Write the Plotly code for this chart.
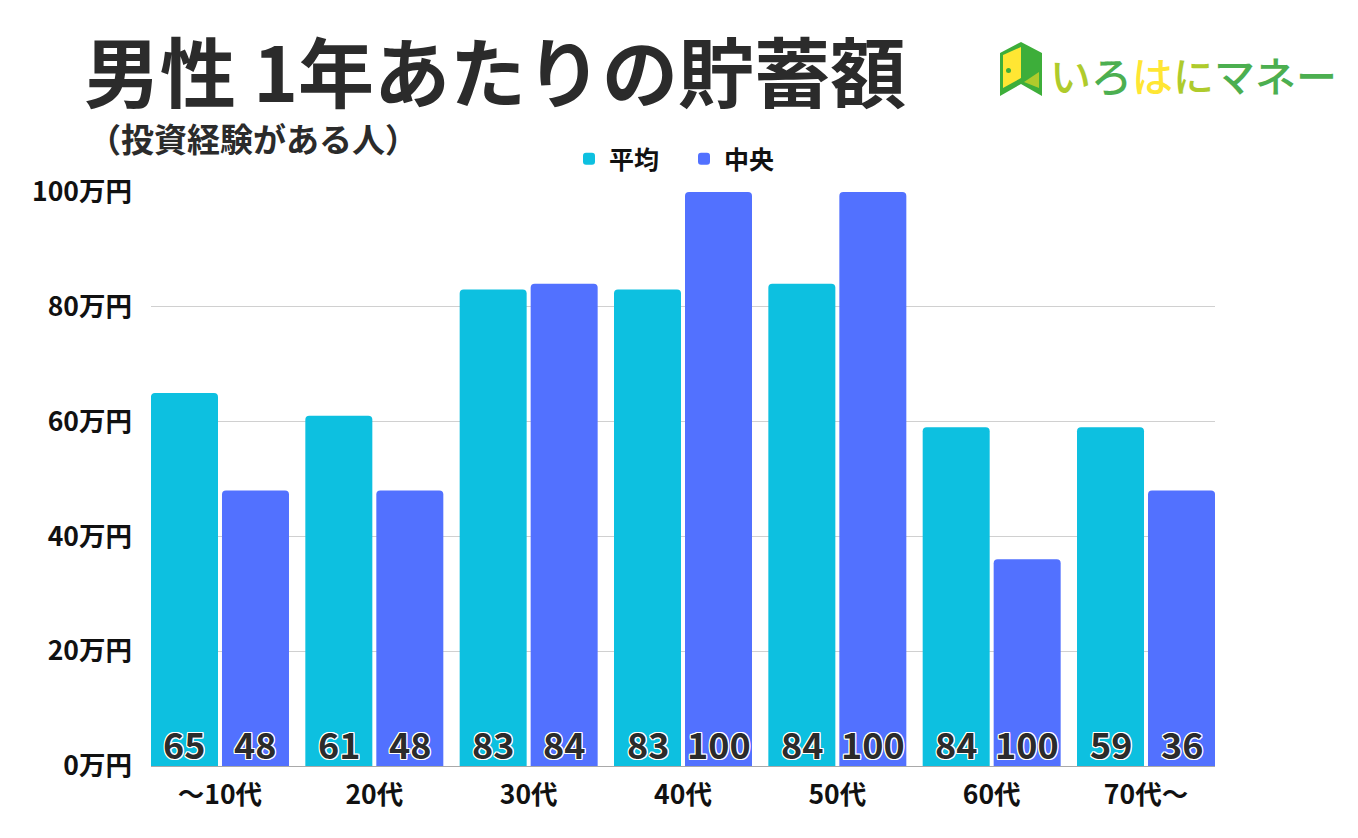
"""男性 1年あたりの貯蓄額 (投資経験がある人) bar chart."""

import plotly.graph_objects as go

AGE_GROUPS = ["〜10代", "20代", "30代", "40代", "50代", "60代", "70代〜"]

# bar heights and printed labels disagree in the 60代/70代〜 groups, kept as in the source
AVG_VALUES = [65, 61, 83, 83, 84, 59, 59]
MEDIAN_VALUES = [48, 48, 84, 100, 100, 36, 48]
AVG_LABELS = ["65", "61", "83", "83", "84", "84", "59"]
MEDIAN_LABELS = ["48", "48", "84", "100", "100", "100", "36"]

Y_TICKS = [0, 20, 40, 60, 80, 100]
Y_TICK_LABELS = ["0万円", "20万円", "40万円", "60万円", "80万円", "100万円"]

COLOR_AVG = "#0DC0E0"
COLOR_MEDIAN = "#5271FF"
COLOR_TEXT = "#2B2B2B"
FONT_JP = "Noto Sans CJK JP"

WIDTH, HEIGHT = 1358, 838
PLOT_L, PLOT_R, PLOT_T, PLOT_B = 151, 1215, 192, 766

LOGO_GREEN = "#4CAF50"
LOGO_DARK = "#3DAE3A"
LOGO_OLIVE = "#AFCB2C"
LOGO_YELLOW = "#FFE633"

OUTLINE = ("1px 0 0 #fff, -1px 0 0 #fff, 0 1px 0 #fff, 0 -1px 0 #fff, "
           "1px 1px 0 #fff, -1px -1px 0 #fff, 1px -1px 0 #fff, -1px 1px 0 #fff")


def paper_x(px):
    return (px - PLOT_L) / (PLOT_R - PLOT_L)


def paper_y(px):
    return (PLOT_B - px) / (PLOT_B - PLOT_T)


def polygon(points, color):
    path = "M" + " L".join(f"{paper_x(x)},{paper_y(y)}" for x, y in points) + " Z"
    return dict(type="path", xref="paper", yref="paper", path=path,
                fillcolor=color, line_width=0, layer="above")


def label_text(x, y, text, size, color=COLOR_TEXT, weight=700):
    return dict(xref="paper", yref="paper", x=paper_x(x), y=paper_y(y), text=text,
                showarrow=False, xanchor="left", yanchor="middle",
                font=dict(family=FONT_JP, size=size, color=color, weight=weight))


def bar_labels(labels, shift):
    # value labels sit at the foot of each bar, not at its top
    return [
        dict(xref="x", yref="y", x=i, y=0, xshift=shift, yshift=23, text=text,
             showarrow=False, xanchor="center", yanchor="middle",
             font=dict(family=FONT_JP, size=36, color=COLOR_TEXT, weight=700, shadow=OUTLINE))
        for i, text in enumerate(labels)
    ]


fig = go.Figure([
    go.Bar(name="平均", x=list(range(7)), y=AVG_VALUES, marker=dict(color=COLOR_AVG, line_width=0)),
    go.Bar(name="中央", x=list(range(7)), y=MEDIAN_VALUES, marker=dict(color=COLOR_MEDIAN, line_width=0)),
])

logo_spans = (
    f"<span style='color:{LOGO_OLIVE}'>い</span><span style='color:{LOGO_GREEN}'>ろ</span>"
    f"<span style='color:{LOGO_YELLOW}'>は</span><span style='color:{LOGO_OLIVE}'>に</span>"
    f"<span style='color:{LOGO_GREEN}'>マネー</span>"
)

annotations = [
    label_text(82, 69, "男性 1年あたりの貯蓄額", 76),
    label_text(86, 138, "（投資経験がある人）", 33),
    label_text(1048, 74, logo_spans, 41, color=LOGO_GREEN, weight=500),
] + bar_labels(AVG_LABELS, -35.5) + bar_labels(MEDIAN_LABELS, 35.5)

shapes = [
    polygon([(1000, 53), (1021, 42), (1042, 53), (1042, 96), (1021, 84), (1000, 96)], LOGO_DARK),
    polygon([(1003, 55), (1021, 47), (1021, 78), (1003, 88)], LOGO_YELLOW),
    polygon([(1024, 82), (1039, 72), (1039, 88)], LOGO_OLIVE),
    dict(type="circle", xref="paper", yref="paper", layer="above", line_width=0,
         fillcolor=LOGO_DARK, x0=paper_x(1006), x1=paper_x(1011), y0=paper_y(73), y1=paper_y(68)),
]

fig.update_layout(
    width=WIDTH, height=HEIGHT, autosize=False,
    margin=dict(l=PLOT_L, r=WIDTH - PLOT_R, t=PLOT_T, b=HEIGHT - PLOT_B, pad=0),
    paper_bgcolor="white", plot_bgcolor="white",
    barmode="group", bargap=0.08, bargroupgap=0.0563, barcornerradius=4,
    font=dict(family=FONT_JP, color="#111111"),
    legend=dict(orientation="h", x=paper_x(569), y=paper_y(159), xanchor="left", yanchor="middle",
                entrywidth=70, entrywidthmode="pixels",
                font=dict(family=FONT_JP, size=25, color="#111111", weight=700),
                bgcolor="rgba(0,0,0,0)", traceorder="normal"),
    xaxis=dict(range=[-0.447, 6.447], tickvals=list(range(7)), ticktext=AGE_GROUPS,
               showgrid=False, zeroline=False, showline=True, linecolor="#A9A9A9",
               linewidth=1, ticks="", ticklabelstandoff=5,
               tickfont=dict(family=FONT_JP, size=26.5, color="#111111", weight=700)),
    yaxis=dict(range=[0, 100], tickvals=Y_TICKS, ticktext=Y_TICK_LABELS, gridcolor="#D0D0D0",
               gridwidth=1, zeroline=False, ticks="", showline=False, ticklabelstandoff=18,
               tickfont=dict(family=FONT_JP, size=26.5, color="#111111", weight=700)),
    annotations=annotations, shapes=shapes,
)

fig.write_html("out.html", config={"displayModeBar": False},
               post_script="document.body.style.margin='0';")
